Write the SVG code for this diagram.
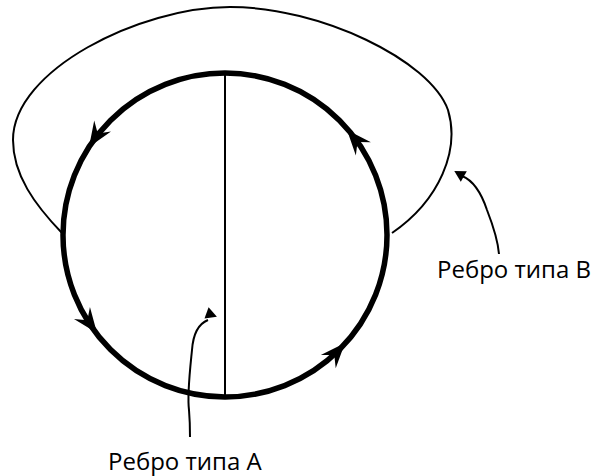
<svg xmlns="http://www.w3.org/2000/svg" width="598" height="476" viewBox="0 0 598 476">
<style>
.thick{fill:none;stroke:#000;stroke-width:5.5}
.thin{fill:none;stroke:#000;stroke-width:2}
.ptr{fill:none;stroke:#000;stroke-width:2}
.lbl{font-family:"Open Sans","Liberation Sans",sans-serif;font-size:24px;fill:#000}
</style>
<defs>
<path id="ah" d="M0,0 L-25,-10 L-16,0 L-25,10 Z" fill="#000"/>
<path id="ph" d="M2,0 L-9,-6 L-9,6 Z" fill="#000"/>
</defs>
<g id="edges">
<path id="edgeB" class="thin" d="M62,233 C35,205 13,175 13,140 C13,70 140,7 230,7 C320,7 430,60 448,110 C460,150 440,200 392,233"/>
<line id="edgeA" class="thin" x1="225" y1="73" x2="225" y2="397"/>
<g id="pointers">
<path class="ptr" d="M462,176 C472,180 481,192 487,210 C494,228 498,242 499,254"/>
<use href="#ph" transform="translate(456,172) rotate(-150)"/>
<path class="ptr" d="M208,320 C198,324 193,336 192,350 C190,370 187,395 189,410 C190,422 190,430 190,437"/>
<use href="#ph" transform="translate(215,316) rotate(20)"/>
</g>
</g>
<g id="cycle">
<circle class="thick" cx="225" cy="235" r="162"/>
<use href="#ah" transform="translate(89,147) rotate(123)"/>
<use href="#ah" transform="translate(347,130) rotate(-131)"/>
<use href="#ah" transform="translate(97,333) rotate(53)"/>
<use href="#ah" transform="translate(345,343) rotate(-48)"/>
</g>
<g id="labelB"><text class="lbl" x="437" y="278">Ребро типа B</text></g>
<g id="labelA"><text class="lbl" x="108" y="470">Ребро типа A</text></g>
</svg>
